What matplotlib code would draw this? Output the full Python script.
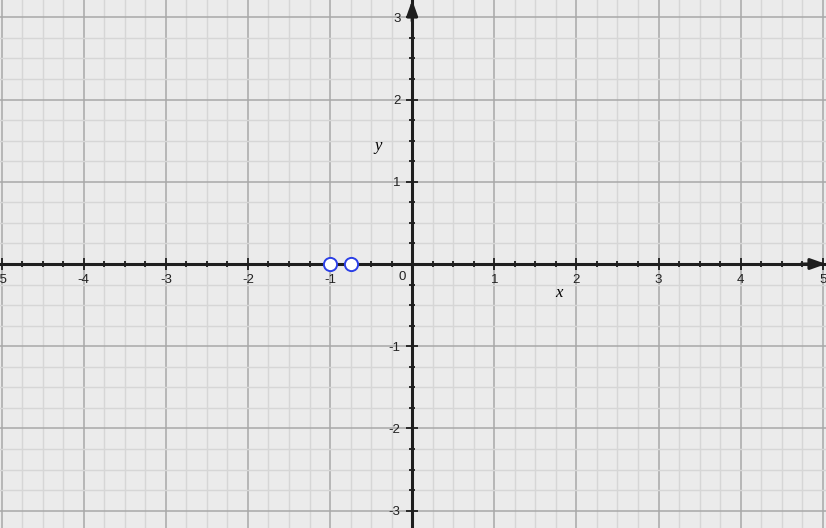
import numpy as np
import matplotlib.pyplot as plt
from matplotlib.ticker import MultipleLocator, FixedLocator

# 数据
pts_x = [-1.0, -0.75]
pts_y = [0.0, 0.0]
x_ticks = [-5, -4, -3, -2, -1, 1, 2, 3, 4, 5]
y_ticks = [-3, -2, -1, 1, 2, 3]

plt.rcParams["font.family"] = ["Liberation Sans", "DejaVu Sans"]
plt.rcParams["axes.unicode_minus"] = False

fig = plt.figure(figsize=(8.26, 5.28), dpi=100)
ax = fig.add_axes([0, 0, 1, 1])
ax.set_facecolor("#ebebeb")
ax.set_xlim(-5.02, 5.04)
ax.set_ylim(-3.21, 3.21)

# 网格
ax.xaxis.set_major_locator(FixedLocator(x_ticks))
ax.yaxis.set_major_locator(FixedLocator(y_ticks))
ax.xaxis.set_minor_locator(MultipleLocator(0.25))
ax.yaxis.set_minor_locator(MultipleLocator(0.25))
ax.set_axisbelow(True)
ax.grid(which="minor", color="#d6d6d6", linewidth=1.0)
ax.grid(which="major", color="#a8a8a8", linewidth=1.1)
ax.axvline(0, color="#a8a8a8", lw=1, zorder=0.5)
ax.axhline(0, color="#a8a8a8", lw=1, zorder=0.5)

# 坐标轴放在原点
for side in ["top", "right"]:
    ax.spines[side].set_visible(False)
for side in ["left", "bottom"]:
    ax.spines[side].set_position("zero")
    ax.spines[side].set_color("#1e1e1e")
    ax.spines[side].set_linewidth(2.2)
    ax.spines[side].set_zorder(3)

ax.tick_params(which="major", direction="inout", length=9, width=1.3,
               color="#1e1e1e", labelsize=9.5, labelcolor="#222222")
ax.tick_params(which="minor", direction="inout", length=5, width=1.3,
               color="#1e1e1e")
ax.tick_params(axis="x", pad=3)
ax.tick_params(axis="y", pad=4)

# 箭头
arrow = dict(arrowstyle="-|>,head_length=0.9,head_width=0.32", color="#1e1e1e",
             lw=2.2, shrinkA=0, shrinkB=0)
ax.annotate("", xy=(1.0, 0), xytext=(0.97, 0),
            xycoords=ax.get_yaxis_transform(), arrowprops=arrow, zorder=4)
ax.annotate("", xy=(0, 1.0), xytext=(0, 0.96),
            xycoords=ax.get_xaxis_transform(), arrowprops=arrow, zorder=4)

ax.text(-0.08, -0.09, "0", ha="right", va="top", fontsize=9.5, color="#222222")
ax.text(1.79, -0.35, "x", ha="center", va="center", fontsize=12,
        family="Liberation Serif", style="italic")
ax.text(-0.41, 1.44, "y", ha="center", va="center", fontsize=12,
        family="Liberation Serif", style="italic")

# 点
ax.plot(pts_x, pts_y, "o", ms=9.5, mfc="white", mec="#2b3fe6", mew=1.4,
        zorder=5, clip_on=False)

fig.savefig("out.png", dpi=100)
